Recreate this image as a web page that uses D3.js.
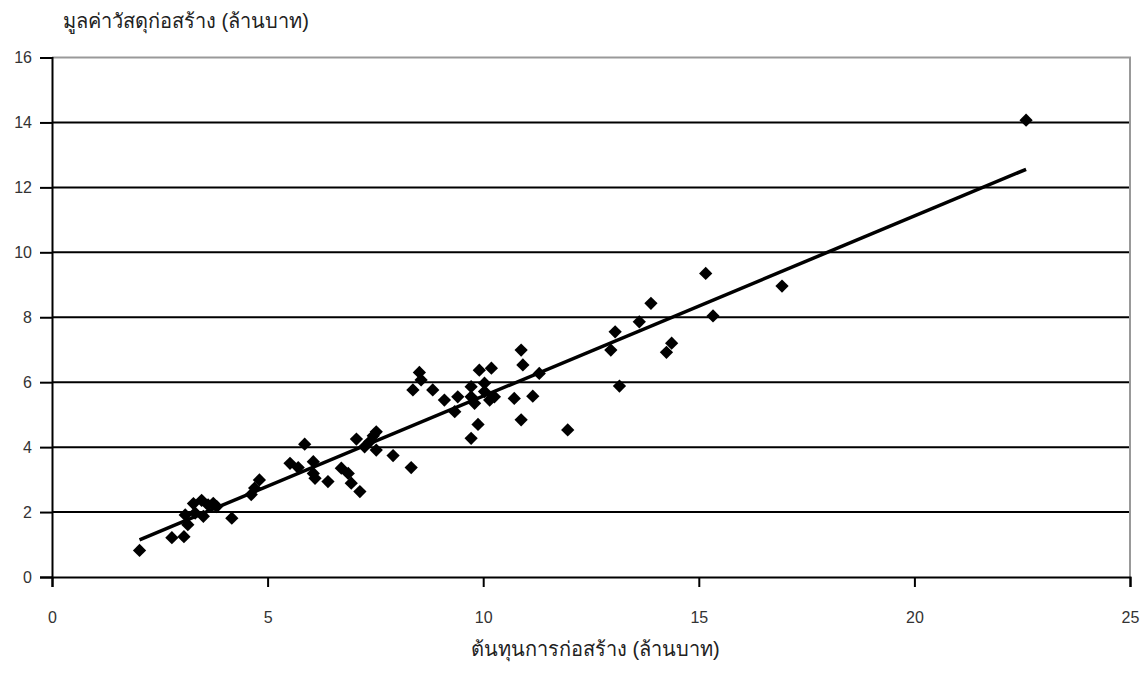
<!DOCTYPE html>
<html>
<head>
<meta charset="utf-8">
<script src="https://cdn.jsdelivr.net/npm/d3@7"></script>
<style>
  body { margin: 0; background: #fff; }
  text { font-family: "Liberation Sans", Arial, sans-serif; }
</style>
</head>
<body>
<div id="container"></div>
<script>
/* DATA */
const costX = [2.03, 2.78, 3.06, 3.15, 3.09, 3.28, 3.32, 3.47, 3.51, 3.62, 3.74, 3.82, 4.17, 4.62, 4.70, 4.81,
  5.52, 5.71, 5.86, 6.06, 6.06, 6.10, 6.40, 6.71, 6.87, 6.94, 7.14, 7.06, 7.25, 7.37, 7.45, 7.52, 7.52, 7.91, 8.33,
  8.37, 8.52, 8.56, 8.83, 9.10, 9.34, 9.41, 9.72, 9.72, 9.80, 9.91, 10.03, 10.03, 10.15, 10.19, 10.26, 9.88, 9.72,
  10.72, 10.88, 10.92, 10.88, 11.15, 11.30, 11.96,
  12.96, 13.06, 13.16, 13.62, 13.89, 14.25, 14.37, 15.16, 15.33, 16.93, 22.59];
const materialY = [0.82, 1.21, 1.24, 1.61, 1.91, 2.26, 1.97, 2.36, 1.87, 2.22, 2.27, 2.17, 1.81, 2.54, 2.74, 2.99,
  3.50, 3.37, 4.09, 3.55, 3.19, 3.04, 2.94, 3.35, 3.19, 2.89, 2.63, 4.25, 4.01, 4.17, 4.35, 4.47, 3.91, 3.74, 3.37,
  5.76, 6.30, 6.07, 5.76, 5.45, 5.09, 5.55, 5.86, 5.55, 5.35, 6.37, 5.97, 5.71, 5.45, 6.43, 5.55, 4.70, 4.27,
  5.50, 6.99, 6.53, 4.84, 5.57, 6.27, 4.53,
  6.99, 7.55, 5.88, 7.86, 8.43, 6.92, 7.20, 9.35, 8.04, 8.96, 14.07];
// linear trend line
const trendSlope = 0.555;
const trendIntercept = 0.02;
const trendRange = [2.03, 22.59];
const xTicks = [0, 5, 10, 15, 20, 25];
const yTicks = [0, 2, 4, 6, 8, 10, 12, 14, 16];
const yTitle = "มูลค่าวัสดุก่อสร้าง (ล้านบาท)";
const xTitle = "ต้นทุนการก่อสร้าง (ล้านบาท)";

/* LAYOUT */
const width = 1144, height = 689,
  margin = { top: 57.5, bottom: 112, left: 52, right: 14 };

const points = costX.map((x, i) => ({ x: x, y: materialY[i] }));

const svg = d3.select("#container")
  .append("svg")
  .attr("width", width)
  .attr("height", height);

const x = d3.scaleLinear().domain([0, 25]).range([margin.left, width - margin.right]);
const y = d3.scaleLinear().domain([0, 16]).range([height - margin.bottom, margin.top]);

// gridlines
svg.selectAll("line.grid")
  .data(yTicks.filter(d => d > 0 && d < 16))
  .join("line")
  .attr("class", "grid")
  .attr("x1", x(0)).attr("x2", x(25))
  .attr("y1", d => y(d)).attr("y2", d => y(d))
  .attr("stroke", "#000")
  .attr("stroke-width", 2);

// top and right frame (gray)
svg.append("path")
  .attr("d", `M${x(0)},${y(16)}H${x(25)}V${y(0)}`)
  .attr("fill", "none")
  .attr("stroke", "#999")
  .attr("stroke-width", 2);

// y axis
const yAxis = svg.append("g")
  .attr("transform", `translate(${x(0)},0)`)
  .call(d3.axisLeft(y).tickValues(yTicks).tickSize(12).tickPadding(8));
yAxis.select(".domain").attr("stroke-width", 2).attr("stroke", "#000");
yAxis.selectAll(".tick line").attr("stroke-width", 2);
yAxis.selectAll("text")
  .attr("font-size", 16)
  .attr("font-family", "Liberation Sans, Arial, sans-serif")
  .attr("fill", "#333");

// x axis
const xAxis = svg.append("g")
  .attr("transform", `translate(0,${y(0)})`)
  .call(d3.axisBottom(x).tickValues(xTicks).tickSize(10).tickPadding(25));
xAxis.select(".domain").attr("stroke-width", 2).attr("stroke", "#000");
xAxis.selectAll(".tick line").attr("stroke-width", 2);
xAxis.selectAll("text")
  .attr("font-size", 16)
  .attr("font-family", "Liberation Sans, Arial, sans-serif")
  .attr("fill", "#333");

// trend line
svg.append("line")
  .attr("x1", x(trendRange[0]))
  .attr("y1", y(trendSlope * trendRange[0] + trendIntercept))
  .attr("x2", x(trendRange[1]))
  .attr("y2", y(trendSlope * trendRange[1] + trendIntercept))
  .attr("stroke", "#000")
  .attr("stroke-width", 3.5);

// markers (diamonds)
const diamond = d3.symbol().type(d3.symbolSquare).size(88);
svg.selectAll("path.pt")
  .data(points)
  .join("path")
  .attr("class", "pt")
  .attr("d", diamond)
  .attr("transform", d => `translate(${x(d.x)},${y(d.y)}) rotate(45)`)
  .attr("fill", "#000");

// titles
svg.append("text")
  .attr("x", 63)
  .attr("y", 28)
  .style("font-size", "20px")
  .attr("fill", "#222")
  .text(yTitle);

svg.append("text")
  .attr("x", x(12.6))
  .attr("y", 656)
  .attr("text-anchor", "middle")
  .style("font-size", "20px")
  .attr("fill", "#222")
  .text(xTitle);
</script>
</body>
</html>
